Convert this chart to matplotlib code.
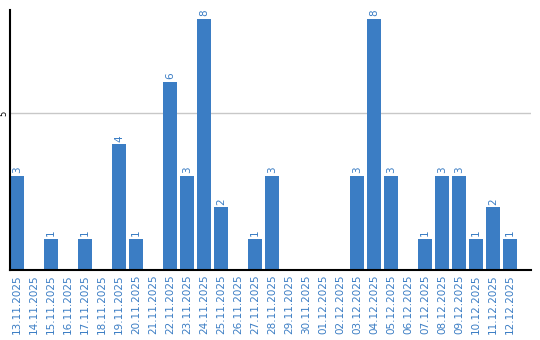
import numpy as np
import matplotlib.pyplot as plt

dates = ['13.11.2025', '14.11.2025', '15.11.2025', '16.11.2025', '17.11.2025',
         '18.11.2025', '19.11.2025', '20.11.2025', '21.11.2025', '22.11.2025',
         '23.11.2025', '24.11.2025', '25.11.2025', '26.11.2025', '27.11.2025',
         '28.11.2025', '29.11.2025', '30.11.2025', '01.12.2025', '02.12.2025',
         '03.12.2025', '04.12.2025', '05.12.2025', '06.12.2025', '07.12.2025',
         '08.12.2025', '09.12.2025', '10.12.2025', '11.12.2025', '12.12.2025']
counts = [3, 0, 1, 0, 1, 0, 4, 1, 0, 6,
          3, 8, 2, 0, 1, 3, 0, 0, 0, 0,
          3, 8, 3, 0, 1, 3, 3, 1, 2, 1]

blue = '#3b7dc4'

fig = plt.figure(figsize=(5.4, 3.4), dpi=100)
ax = fig.add_axes([10 / 540, 70 / 340, 521 / 540, 260 / 340])

x = np.arange(len(dates))
w = 14 / 17
ax.bar(x, counts, width=w, align='edge', color=blue, zorder=2)

# value labels above non-empty bars
for xi, c in zip(x, counts):
    if c > 0:
        ax.text(xi + w / 2, c + 0.08, str(c), rotation=90, ha='center', va='bottom',
                color=blue, fontsize=7.5)

ax.set_xlim(0, 521 / 17)
ax.set_ylim(0, 260 / 31.4)
ax.set_xticks(x + w / 2)
ax.set_xticklabels(dates, rotation=90, color=blue, fontsize=7.5)
ax.set_yticks([5])
ax.set_yticklabels(['5'], rotation=90, fontsize=6, va='center')
ax.tick_params(length=0, pad=3)
ax.tick_params(axis='y', pad=1)
ax.grid(axis='y', color='#c8c8c8', linewidth=1, zorder=0)

for s in ['top', 'right']:
    ax.spines[s].set_visible(False)
ax.spines['left'].set_linewidth(1.5)
ax.spines['bottom'].set_linewidth(1.5)

fig.savefig('out.png', dpi=100)
